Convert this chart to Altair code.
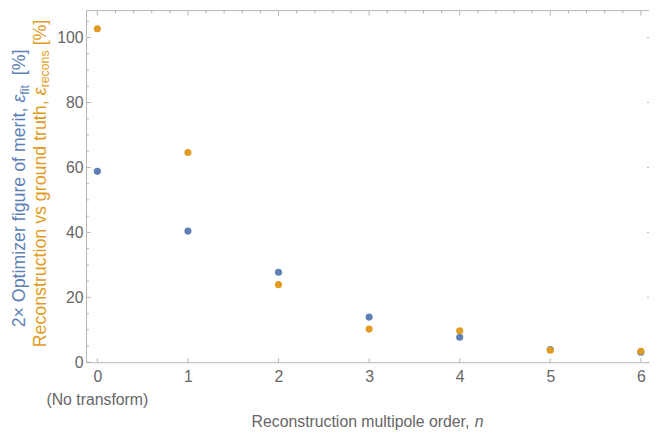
import altair as alt
import pandas as pd

# ---- data ----
n_order = [0, 1, 2, 3, 4, 5, 6]
eps_fit_x2 = [58.8, 40.4, 27.7, 13.9, 7.7, 3.9, 3.1]
eps_recons = [102.7, 64.6, 23.9, 10.2, 9.7, 3.7, 3.4]

x_major = [0, 1, 2, 3, 4, 5, 6]
x_minor = [0.2, 0.4, 0.6, 0.8, 1.2, 1.4, 1.6, 1.8, 2.2, 2.4, 2.6, 2.8,
           3.2, 3.4, 3.6, 3.8, 4.2, 4.4, 4.6, 4.8, 5.2, 5.4, 5.6, 5.8]
y_major = [0, 20, 40, 60, 80, 100]
y_minor = [5, 10, 15, 25, 30, 35, 45, 50, 55, 65, 70, 75, 85, 90, 95, 105]

BLUE = "#5E81B5"
ORANGE = "#E19C24"
GRAY = "#666666"
TICK = "#b5b5b5"
FONT = "Liberation Sans"

W, H = 570, 356
xs = alt.Scale(domain=[-0.125, 6.09], nice=False, zero=False)
ys = alt.Scale(domain=[0, 108.3], nice=False, zero=False)

# approximate Arial/Liberation Sans advance widths (per 1000 em)
ADV = {' ': 278, '2': 556, '×': 584, 'O': 778, 'p': 556, 't': 278, 'i': 222,
       'm': 833, 'z': 500, 'e': 556, 'r': 333, 'f': 278, 'g': 556, 'u': 556,
       'o': 556, ',': 278, 'ε': 446, '[': 278, '%': 889, ']': 278, 'R': 722,
       'c': 500, 'n': 556, 's': 500, 'v': 500, 'h': 556, 'd': 556, 'l': 222,
       'a': 556}


def tw(s, size):
    return sum(ADV.get(ch, 556) for ch in s) * size / 1000.0


one = alt.Data(values=[{"k": 1}])

pts = pd.DataFrame({
    "n": n_order + n_order,
    "v": eps_fit_x2 + eps_recons,
    "s": ["fit"] * len(n_order) + ["recons"] * len(n_order),
})

x_axis = alt.Axis(values=x_major, format="d", title=None, ticks=False, tickSize=0,
                  grid=False, labelFontSize=16, labelColor=GRAY, labelFont=FONT,
                  labelPadding=6, domainColor=TICK, labelFlush=False)
y_axis = alt.Axis(values=y_major, format="d", title=None, ticks=False, tickSize=0,
                  grid=False, labelFontSize=16, labelColor=GRAY, labelFont=FONT,
                  labelPadding=3, domainColor=TICK, labelFlush=False)

points = alt.Chart(pts).mark_circle(size=52, opacity=1).encode(
    x=alt.X("n:Q", scale=xs, axis=x_axis),
    y=alt.Y("v:Q", scale=ys, axis=y_axis),
    color=alt.Color("s:N", scale=alt.Scale(domain=["fit", "recons"],
                                           range=[BLUE, ORANGE]), legend=None),
)

# inward ticks
left_major = alt.Chart(pd.DataFrame({"v": y_major})).mark_rule(color=TICK).encode(
    y=alt.Y("v:Q", scale=ys, axis=y_axis), x=alt.value(0), x2=alt.value(5))
left_minor = alt.Chart(pd.DataFrame({"v": y_minor})).mark_rule(color=TICK).encode(
    y=alt.Y("v:Q", scale=ys, axis=y_axis), x=alt.value(0), x2=alt.value(3))
right_major = alt.Chart(pd.DataFrame({"v": y_major})).mark_rule(color=TICK).encode(
    y=alt.Y("v:Q", scale=ys, axis=y_axis), x=alt.value(W - 2), x2=alt.value(W))
bottom_major = alt.Chart(pd.DataFrame({"n": x_major})).mark_rule(color=TICK).encode(
    x=alt.X("n:Q", scale=xs, axis=x_axis), y=alt.value(H - 4), y2=alt.value(H))
top_major = alt.Chart(pd.DataFrame({"n": x_major})).mark_rule(color=TICK).encode(
    x=alt.X("n:Q", scale=xs, axis=x_axis), y=alt.value(0), y2=alt.value(5))
top_minor = alt.Chart(pd.DataFrame({"n": x_minor})).mark_rule(color=TICK).encode(
    x=alt.X("n:Q", scale=xs, axis=x_axis), y=alt.value(0), y2=alt.value(3))
top_line = alt.Chart(one).mark_rule(color=TICK).encode(
    x=alt.value(0), x2=alt.value(W), y=alt.value(0))

# "(No transform)" under the 0 tick
note = alt.Chart(pd.DataFrame({"n": [0], "lab": ["(No transform)"]})).mark_text(
    fontSize=16, font=FONT, color=GRAY, align="center", baseline="alphabetic"
).encode(x=alt.X("n:Q", scale=xs, axis=x_axis), y=alt.value(399), text="lab:N")


def rich(segments, x0, y0, vertical):
    """segments: list of (text, size, italic, shift, color); leading spaces
    are turned into an offset (SVG collapses them)."""
    layers = []
    total = sum(tw(s, sz) for s, sz, it, sh, c in segments)
    pos = -total / 2.0
    for s, sz, it, sh, c in segments:
        lead = len(s) - len(s.lstrip(" "))
        body = s.lstrip(" ")
        start = pos + tw(" " * lead, sz)
        kw = dict(text=body, fontSize=sz, font=FONT, color=c, align="left",
                  baseline="alphabetic")
        if it:
            kw["fontStyle"] = "italic"
        if vertical:
            kw["angle"] = 270
            enc = dict(x=alt.value(x0 + sh), y=alt.value(y0 - start))
        else:
            enc = dict(x=alt.value(x0 + start), y=alt.value(y0 + sh))
        layers.append(alt.Chart(one).mark_text(**kw).encode(**enc))
        pos += tw(s, sz)
    return layers


YS = 18
YSS = 12.5
blue_title = rich([
    ("2× Optimizer figure of merit, ", YS, False, 0, BLUE),
    ("ε", YS, True, 0, BLUE),
    ("fit", YSS, False, 4, BLUE),
    ("  [%]", YS, False, 0, BLUE),
], -62, 180, True)

orange_title = rich([
    ("Reconstruction vs ground truth, ", YS, False, 0, ORANGE),
    ("ε", YS, True, 0, ORANGE),
    ("recons", YSS, False, 4, ORANGE),
    (" [%]", YS, False, 0, ORANGE),
], -41, 175, True)

x_title = rich([
    ("Reconstruction multipole order, ", 16, False, 0, GRAY),
    ("n", 16, True, 0, GRAY),
], W / 2.0, 422, False)

chart = alt.layer(
    points, top_line, top_major, top_minor, left_major, left_minor, right_major,
    bottom_major, note, *blue_title, *orange_title, *x_title
).properties(
    width=W, height=H,
    autosize=alt.AutoSizeParams(type="none"),
    padding={"left": 79, "top": 0, "right": 1, "bottom": 70},
).configure_view(stroke=None)

chart.save("out.html", embed_options={"renderer": "svg", "actions": False})
